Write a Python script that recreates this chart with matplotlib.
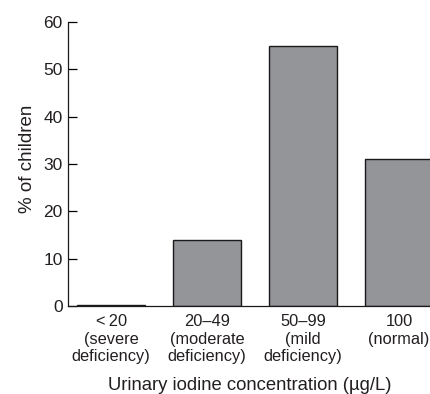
import matplotlib.pyplot as plt
import numpy as np

# Data
categories = ['<\u200920\n(severe\ndeficiency)', '20\u201349\n(moderate\ndeficiency)',
              '50\u201399\n(mild\ndeficiency)', '100\n(normal)']
percent_children = [0.15, 14, 55, 31]
y_ticks = [0, 10, 20, 30, 40, 50, 60]

plt.rcParams['font.family'] = ['Liberation Sans', 'DejaVu Sans']
text_color = '#231f20'

fig = plt.figure(figsize=(4.31, 3.94), dpi=100)
ax = fig.add_axes([0.158, 0.2234, 0.842, 0.7206])

x = np.arange(len(categories))
ax.bar(x, percent_children, width=0.71, color='#939598',
       edgecolor='#1a1a1a', linewidth=1.0, zorder=2)

ax.set_xlim(-0.448, 3.333)
ax.set_ylim(0, 60)
ax.set_yticks(y_ticks)
ax.set_xticks(x)
ax.set_xticklabels(categories, fontsize=11.8, color=text_color, linespacing=1.2)
ax.tick_params(axis='x', length=0, pad=6)
ax.tick_params(axis='y', direction='in', length=6.5, width=0.9,
               labelsize=12.5, labelcolor=text_color, pad=4)

for side in ['top', 'right']:
    ax.spines[side].set_visible(False)
for side in ['left', 'bottom']:
    ax.spines[side].set_linewidth(0.9)
    ax.spines[side].set_color('#1a1a1a')

ax.set_ylabel('% of children', fontsize=13.5, color=text_color)
ax.yaxis.set_label_coords(-0.088, 0.52)
ax.set_xlabel('Urinary iodine concentration (\u00b5g/L)', fontsize=13.3,
              color=text_color, labelpad=9)

fig.savefig('out.png', dpi=100)
